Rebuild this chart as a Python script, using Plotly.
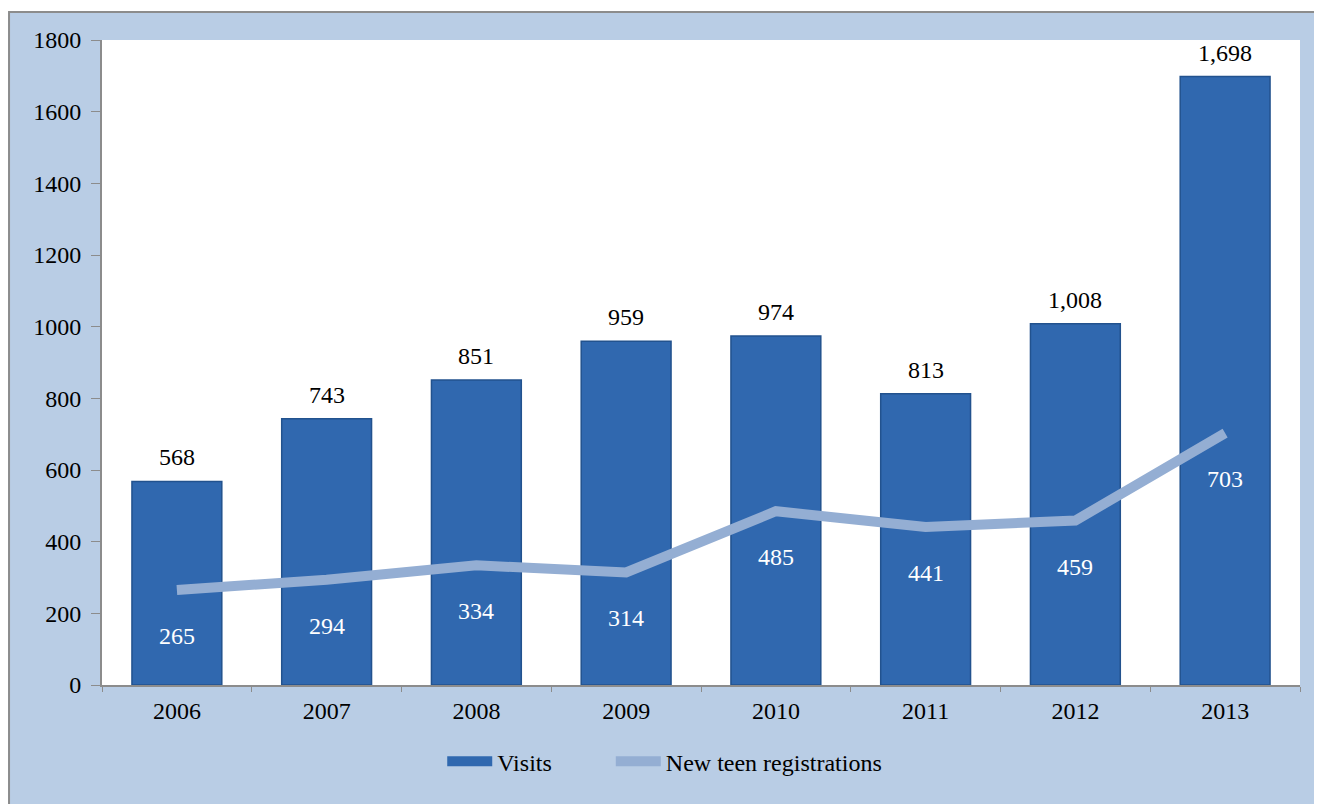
import plotly.graph_objects as go

years = ["2006", "2007", "2008", "2009", "2010", "2011", "2012", "2013"]
visits = [568, 743, 851, 959, 974, 813, 1008, 1698]
teen_regs = [265, 294, 334, 314, 485, 441, 459, 703]
y_ticks = [0, 200, 400, 600, 800, 1000, 1200, 1400, 1600, 1800]

serif = "Times New Roman, Liberation Serif, Tinos, DejaVu Serif, serif"
frame_blue = "#B9CDE5"
bar_blue = "#3068AF"
nbsp = "\u00a0"

fig = go.Figure()

fig.add_trace(go.Bar(
    x=years, y=visits, name="Visits", showlegend=False,
    width=0.6,
    marker=dict(color=bar_blue, line=dict(color="#22528E", width=1.5)),
))

# legend proxy so the Visits key looks like a flat bar
fig.add_trace(go.Scatter(
    x=[None], y=[None], name="Visits" + nbsp * 9, mode="lines",
    line=dict(color=bar_blue, width=10),
))

fig.add_trace(go.Scatter(
    x=years, y=teen_regs, name="New teen registrations",
    mode="lines",
    line=dict(color="#94AED3", width=10),
))

# black totals above the bars
for i, v in enumerate(visits):
    fig.add_annotation(
        x=i, y=v, text=f"{v:,}", showarrow=False,
        yanchor="bottom", yshift=9,
        font=dict(family=serif, size=24, color="black"),
    )

# white values under the line
for i, v in enumerate(teen_regs):
    fig.add_annotation(
        x=i, y=v, text=str(v), showarrow=False, yshift=-46,
        font=dict(family=serif, size=24, color="white"),
    )

# white strip above the frame, then the frame border
fig.add_shape(type="rect", xref="paper", yref="paper", layer="below",
              x0=-0.2, x1=1.2, y0=1.0434, y1=1.2,
              fillcolor="white", line=dict(width=0))
fig.add_shape(type="rect", xref="paper", yref="paper", layer="below",
              x0=-0.0776, x1=1.2, y0=-0.4, y1=1.0434,
              fillcolor="rgba(0,0,0,0)", line=dict(color="#8C8C8C", width=2))

fig.update_layout(
    width=1322, height=804,
    margin=dict(l=94, r=30, t=32, b=127),
    paper_bgcolor=frame_blue, plot_bgcolor="white",
    font=dict(family=serif, size=24, color="black"),
    showlegend=True,
    legend=dict(
        orientation="h", x=0.284, xanchor="left", y=-0.119, yanchor="middle",
        bgcolor="rgba(0,0,0,0)", font=dict(family=serif, size=24),
        traceorder="normal", itemwidth=45,
    ),
)

fig.update_xaxes(
    type="category", showgrid=False,
    showline=True, linecolor="#8C8C8C", linewidth=2,
    ticks="outside", tickson="boundaries", ticklen=5, tickcolor="#8C8C8C",
    ticklabelstandoff=3,
    tickfont=dict(family=serif, size=24),
)
fig.update_yaxes(
    range=[0, 1800], tickvals=y_ticks, showgrid=False, zeroline=False,
    showline=True, linecolor="#8C8C8C", linewidth=2,
    ticks="outside", ticklen=9, tickcolor="#8C8C8C",
    ticklabelstandoff=5,
    tickfont=dict(family=serif, size=24),
)

fig.write_html("out.html")
